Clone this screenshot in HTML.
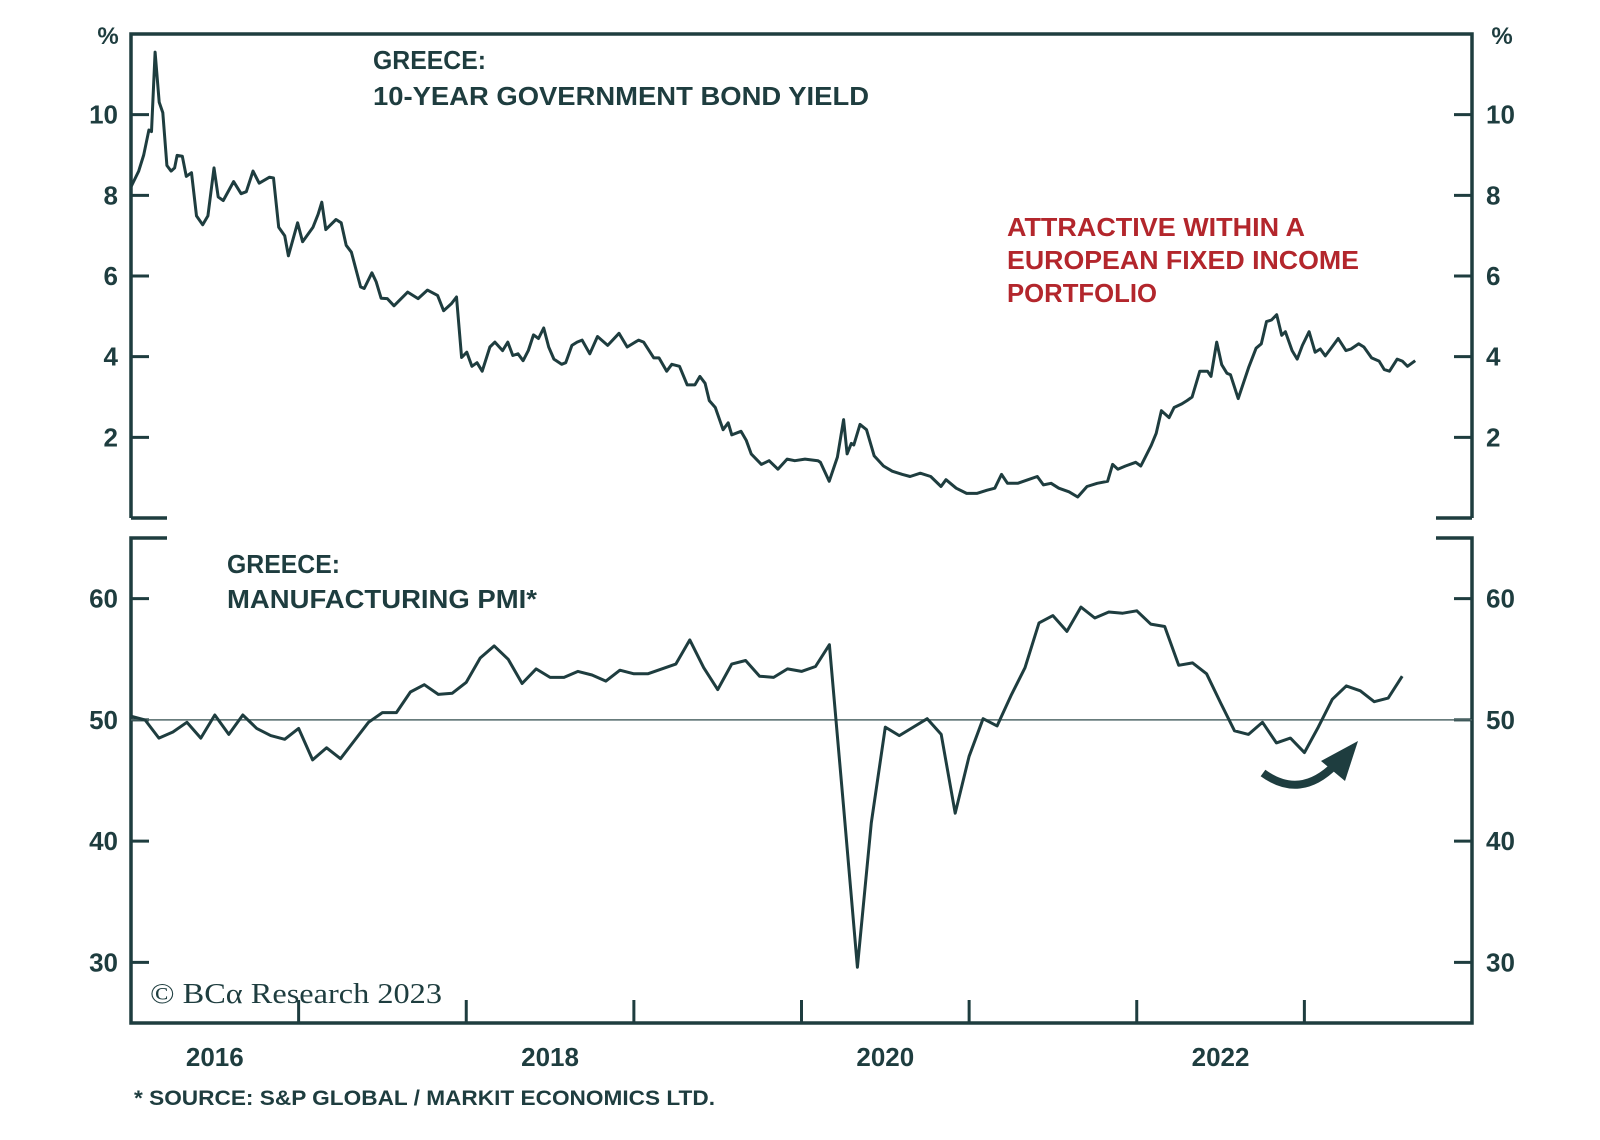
<!DOCTYPE html>
<html><head><meta charset="utf-8"><style>
html,body{margin:0;padding:0;background:#fff;}
svg{display:block;}
text{font-family:"Liberation Sans",sans-serif;fill:#1e3d3f;}
</style></head><body>
<svg id="chart" width="1600" height="1140" viewBox="0 0 1600 1140" xmlns="http://www.w3.org/2000/svg">
<g id="frame"></g>
<g id="ticks"></g>
<g id="series"></g>
<text x="373" y="69" font-size="26" font-weight="bold" textLength="113" lengthAdjust="spacingAndGlyphs">GREECE:</text>
<text x="373" y="105" font-size="26" font-weight="bold" textLength="496" lengthAdjust="spacingAndGlyphs">10-YEAR GOVERNMENT BOND YIELD</text>
<text x="1007" y="236" font-size="26" font-weight="bold" style="fill:#b3262c" textLength="298" lengthAdjust="spacingAndGlyphs">ATTRACTIVE WITHIN A</text>
<text x="1007" y="269" font-size="26" font-weight="bold" style="fill:#b3262c" textLength="352" lengthAdjust="spacingAndGlyphs">EUROPEAN FIXED INCOME</text>
<text x="1007" y="302" font-size="26" font-weight="bold" style="fill:#b3262c" textLength="150" lengthAdjust="spacingAndGlyphs">PORTFOLIO</text>
<text x="227" y="573" font-size="26" font-weight="bold" textLength="113" lengthAdjust="spacingAndGlyphs">GREECE:</text>
<text x="227" y="608" font-size="26" font-weight="bold" textLength="310" lengthAdjust="spacingAndGlyphs">MANUFACTURING PMI*</text>
<text x="150" y="1003" font-size="29" style="font-family:'Liberation Serif',serif" textLength="292" lengthAdjust="spacingAndGlyphs">© BCα Research 2023</text>
<text x="134" y="1105" font-size="21" font-weight="bold" textLength="581" lengthAdjust="spacingAndGlyphs">* SOURCE: S&amp;P GLOBAL / MARKIT ECONOMICS LTD.</text>
<text x="108" y="44" font-size="24" font-weight="bold" text-anchor="middle">%</text>
<text x="1502" y="44" font-size="24" font-weight="bold" text-anchor="middle">%</text>
<path d="M1263,773 Q1300,800 1335,765" fill="none" stroke="#1e3d3f" stroke-width="8"/>
<polygon points="1358,741 1345,781 1321,761" fill="#1e3d3f"/>
</svg>
<script>
const NS='http://www.w3.org/2000/svg';
const C='#1e3d3f';
// Bond yield: time offset in years since Jan 2016, and yield %
const bondT=[0,0.046,0.076,0.107,0.122,0.144,0.168,0.190,0.214,0.239,0.260,0.275,0.306,0.330,0.361,0.391,0.428,0.459,0.495,0.520,0.550,0.612,0.657,0.688,0.728,0.765,0.826,0.850,0.881,0.917,0.939,0.994,1.024,1.086,1.116,1.138,1.162,1.223,1.254,1.284,1.315,1.370,1.391,1.437,1.462,1.492,1.529,1.569,1.651,1.713,1.768,1.829,1.865,1.911,1.942,1.972,2.003,2.034,2.064,2.095,2.141,2.171,2.217,2.248,2.278,2.309,2.339,2.370,2.401,2.431,2.462,2.492,2.523,2.569,2.593,2.630,2.661,2.691,2.737,2.783,2.844,2.911,2.960,3.028,3.058,3.119,3.150,3.196,3.226,3.272,3.318,3.364,3.394,3.425,3.450,3.486,3.532,3.563,3.584,3.639,3.670,3.700,3.761,3.807,3.859,3.914,3.960,4.021,4.098,4.113,4.165,4.214,4.251,4.272,4.297,4.312,4.349,4.388,4.434,4.489,4.541,4.602,4.648,4.709,4.771,4.832,4.862,4.923,4.985,5.046,5.107,5.153,5.193,5.229,5.290,5.352,5.407,5.443,5.489,5.535,5.596,5.648,5.703,5.764,5.826,5.856,5.887,5.933,5.994,6.024,6.086,6.116,6.147,6.193,6.223,6.269,6.300,6.330,6.376,6.422,6.443,6.477,6.507,6.538,6.559,6.605,6.667,6.712,6.743,6.774,6.804,6.835,6.865,6.887,6.927,6.957,6.988,7.028,7.064,7.095,7.125,7.156,7.202,7.248,7.278,7.324,7.355,7.401,7.446,7.477,7.508,7.554,7.584,7.615,7.661];
const bondV=[8.21,8.60,9.00,9.62,9.58,11.55,10.31,10.05,8.74,8.60,8.68,8.99,8.97,8.47,8.56,7.49,7.27,7.49,8.68,7.96,7.87,8.34,8.04,8.09,8.60,8.30,8.45,8.43,7.21,7.00,6.50,7.32,6.85,7.21,7.53,7.83,7.15,7.40,7.32,6.76,6.59,5.73,5.69,6.08,5.86,5.45,5.44,5.26,5.60,5.44,5.65,5.52,5.14,5.31,5.48,3.98,4.11,3.76,3.85,3.64,4.24,4.36,4.15,4.36,4.03,4.07,3.90,4.15,4.54,4.45,4.71,4.24,3.94,3.81,3.85,4.28,4.36,4.41,4.07,4.50,4.28,4.58,4.24,4.41,4.36,3.97,3.97,3.64,3.81,3.76,3.30,3.30,3.51,3.34,2.91,2.74,2.19,2.36,2.06,2.15,1.93,1.59,1.33,1.42,1.21,1.46,1.42,1.46,1.42,1.38,0.91,1.51,2.44,1.59,1.85,1.81,2.32,2.19,1.54,1.29,1.16,1.08,1.03,1.11,1.03,0.78,0.95,0.74,0.61,0.61,0.69,0.74,1.08,0.86,0.86,0.95,1.03,0.82,0.86,0.74,0.65,0.52,0.78,0.86,0.91,1.33,1.21,1.29,1.38,1.29,1.80,2.10,2.66,2.49,2.74,2.83,2.91,3.00,3.64,3.64,3.51,4.36,3.80,3.59,3.55,2.96,3.73,4.21,4.32,4.87,4.91,5.04,4.53,4.62,4.15,3.94,4.28,4.62,4.11,4.19,4.02,4.19,4.45,4.15,4.19,4.32,4.24,3.97,3.89,3.68,3.64,3.94,3.89,3.76,3.90];
// Manufacturing PMI monthly from Jan 2016
const pmiV=[50.3,50.0,48.5,49.0,49.8,48.5,50.4,48.8,50.4,49.3,48.7,48.4,49.3,46.7,47.7,46.8,48.3,49.8,50.6,50.6,52.3,52.9,52.1,52.2,53.1,55.1,56.1,55.0,53.0,54.2,53.5,53.5,54.0,53.7,53.2,54.1,53.8,53.8,54.2,54.6,56.6,54.3,52.5,54.6,54.9,53.6,53.5,54.2,54.0,54.4,56.2,43.0,29.6,41.5,49.4,48.7,49.4,50.1,48.8,42.3,47.0,50.1,49.5,52.0,54.3,58.0,58.6,57.3,59.3,58.4,58.9,58.8,59.0,57.9,57.7,54.5,54.7,53.8,51.4,49.1,48.8,49.8,48.1,48.5,47.3,49.4,51.7,52.8,52.4,51.5,51.8,53.6];
const bondTicks=[2,4,6,8,10];
const pmiTicks=[30,40,50,60];
const yearLabels=['2016','2018','2020','2022'];
const yearLabelPos=[0.5,2.5,4.5,6.5];
const xTicks=[1,2,3,4,5,6,7];

const X0=131,X1=1472;
const x=t=>X0+(X1-X0)*t/8;
const yB=v=>518-(518-34)*v/12;
const yP=v=>1023-(1023-538)*(v-25)/40;
const frame=document.getElementById('frame'),ticks=document.getElementById('ticks'),series=document.getElementById('series');
function mk(tag,attrs,parent){const e=document.createElementNS(NS,tag);for(const k in attrs)e.setAttribute(k,attrs[k]);parent.appendChild(e);return e;}

let e;
e=mk('path',{d:`M${X0},518 V34 H${X1} V518`,fill:'none',stroke:C,'stroke-width':3.5},frame);


e=mk('path',{d:`M${X0},518 H167 M${X1},518 H1436`,fill:'none',stroke:C,'stroke-width':3.5},frame);


e=mk('path',{d:`M167,538 H${X0} V1023 H${X1} V538 H1436`,fill:'none',stroke:C,'stroke-width':3.5},frame);



bondTicks.forEach(v=>{const y=yB(v);
 e=mk('path',{d:`M${X0},${y} H${X0+18} M${X1},${y} H${X1-18}`,stroke:C,'stroke-width':3},ticks);
 
 
 e=mk('text',{x:118,y:y+9,'font-size':26,'font-weight':'bold','text-anchor':'end'},ticks);e.textContent=v;
 
 
 e=mk('text',{x:1486,y:y+9,'font-size':26,'font-weight':'bold'},ticks);e.textContent=v;
 
 
});
pmiTicks.forEach(v=>{const y=yP(v);
 e=mk('path',{d:`M${X0},${y} H${X0+18} M${X1},${y} H${X1-18}`,stroke:C,'stroke-width':3},ticks);
 
 
 e=mk('text',{x:118,y:y+9,'font-size':26,'font-weight':'bold','text-anchor':'end'},ticks);e.textContent=v;
 
 
 e=mk('text',{x:1486,y:y+9,'font-size':26,'font-weight':'bold'},ticks);e.textContent=v;
 
 
});
xTicks.forEach(t=>{
 e=mk('path',{d:`M${x(t)},1023 V1000`,stroke:C,'stroke-width':3},ticks);
 
 
});
yearLabels.forEach((l,i)=>{
 e=mk('text',{x:x(yearLabelPos[i]),y:1066,'font-size':26,'font-weight':'bold','text-anchor':'middle'},ticks);e.textContent=l;
 
 
});
e=mk('line',{x1:X0,x2:X1,y1:yP(50),y2:yP(50),stroke:'#52696a','stroke-width':1.6},series);



e=mk('polyline',{points:bondT.map((t,i)=>x(t).toFixed(1)+','+yB(bondV[i]).toFixed(1)).join(' '),fill:'none',stroke:C,'stroke-width':3,'stroke-linejoin':'round'},series);


e=mk('polyline',{points:pmiV.map((v,i)=>x(i/12).toFixed(1)+','+yP(v).toFixed(1)).join(' '),fill:'none',stroke:C,'stroke-width':3,'stroke-linejoin':'round'},series);


</script>
</body></html>
